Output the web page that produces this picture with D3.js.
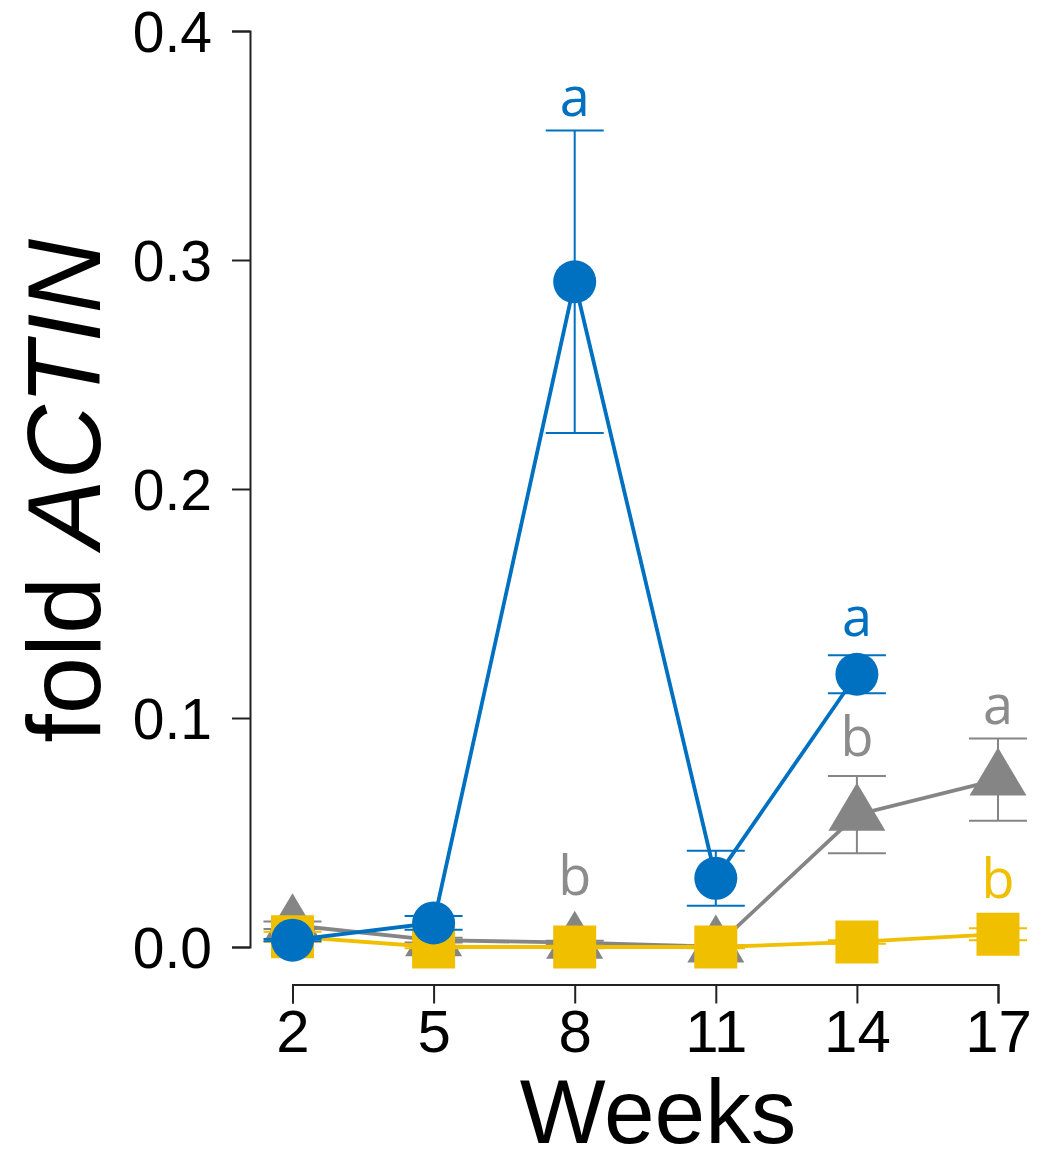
<!DOCTYPE html>
<html>
<head>
<meta charset="utf-8">
<script src="https://cdn.jsdelivr.net/npm/d3@7/dist/d3.min.js"></script>
<style>
  html, body { margin: 0; padding: 0; background: #fff; }
  svg { display: block; }
</style>
</head>
<body>
<svg id="chart" width="1037" height="1163"></svg>
<script>
// Sampling weeks
const weeks = [2, 5, 8, 11, 14, 17];
const yTicks = [0, 0.1, 0.2, 0.3, 0.4];

// Mean expression (fold ACTIN) and standard error per week; null = not sampled
const blueMean   = [0.003, 0.0105, 0.2905, 0.030, 0.1191, null];
const blueErr    = [0.0005, 0.003, 0.066, 0.012, 0.0083, null];
const greyMean   = [0.0095, 0.003, 0.0019, 0.0002, 0.0578, 0.0731];
const greyErr    = [0.0016, 0.001, 0.0008, 0.0005, 0.0169, 0.018];
const yellowMean = [0.0045, 0.0, 0.0, 0.0, 0.0022, 0.0056];
const yellowErr  = [0.0022, 0.0005, 0.0005, 0.0005, 0.0008, 0.0026];

// Significance letters: week, series, letter, vertical position (data units)
const letterWeek   = [8, 14, 8, 14, 17, 17];
const letterSeries = ["blue", "blue", "grey", "grey", "grey", "yellow"];
const letterText   = ["a", "a", "b", "b", "a", "b"];
const letterY      = [0.363, 0.136, 0.0227, 0.0833, 0.0973, 0.0214];

const colors = { blue: "#0070C0", grey: "#858585", yellow: "#EFBF00" };

const svg = d3.select("#chart");
const x = d3.scaleLinear().domain([2, 17]).range([292.5, 998]);
const y = d3.scaleLinear().domain([0, 0.4]).range([947, 31]);

// Axes in base-graphics style: detached, spanning only the tick range
const yAxis = svg.append("g").attr("transform", "translate(250,0)")
  .call(d3.axisLeft(y).tickValues(yTicks).tickFormat(d3.format(".1f")).tickSize(18).tickPadding(20));
const xAxis = svg.append("g").attr("transform", "translate(0,984.5)")
  .call(d3.axisBottom(x).tickValues(weeks).tickFormat(d3.format("d")).tickSize(19).tickPadding(8));
[yAxis, xAxis].forEach(g => {
  g.select(".domain").attr("stroke", "#222").attr("stroke-width", 2);
  g.selectAll(".tick line").attr("stroke", "#222").attr("stroke-width", 2);
  g.selectAll(".tick text").attr("fill", "#000").attr("font-family", "'Liberation Sans', Arial, sans-serif");
});
yAxis.selectAll(".tick text").attr("font-size", 57).attr("dy", "0.36em");
xAxis.selectAll(".tick text").attr("font-size", 60).attr("dy", "0.68em");

// Axis titles
const yLab = svg.append("text")
  .attr("transform", "translate(100,491) rotate(-90)")
  .attr("text-anchor", "middle")
  .attr("font-family", "'Liberation Sans', Arial, sans-serif")
  .attr("font-size", 103)
  .attr("fill", "#000");
yLab.append("tspan").text("fold ");
yLab.append("tspan").attr("font-style", "italic").text("ACTIN");

svg.append("text")
  .attr("x", 658).attr("y", 1143)
  .attr("text-anchor", "middle")
  .attr("font-family", "'Liberation Sans', Arial, sans-serif")
  .attr("font-size", 91)
  .attr("fill", "#000")
  .text("Weeks");

// Series, drawn back to front
const series = [
  { key: "grey",   mean: greyMean,   err: greyErr,   shape: "triangle" },
  { key: "yellow", mean: yellowMean, err: yellowErr, shape: "square" },
  { key: "blue",   mean: blueMean,   err: blueErr,   shape: "circle" }
];

const capHalf = 29;
const symbolPath = {
  circle: d3.symbol().type(d3.symbolCircle).size(Math.PI * 21.5 * 21.5)(),
  square: d3.symbol().type(d3.symbolSquare).size(43 * 43)()
};
// Triangle with its centroid on the data point
const triPath = (w, h) => `M0,${-2 * h / 3}L${w / 2},${h / 3}L${-w / 2},${h / 3}Z`;

series.forEach(s => {
  const pts = weeks.map((w, i) => ({ w, m: s.mean[i], e: s.err[i] })).filter(d => d.m != null);
  const col = colors[s.key];
  const g = svg.append("g");

  // error bars
  const eb = g.append("g").attr("stroke", col).attr("stroke-width", 2).attr("fill", "none");
  pts.forEach(d => {
    const x0 = x(d.w), yt = y(d.m + d.e), yb = y(d.m - d.e);
    eb.append("line").attr("x1", x0).attr("x2", x0).attr("y1", yt).attr("y2", yb);
    eb.append("line").attr("x1", x0 - capHalf).attr("x2", x0 + capHalf).attr("y1", yt).attr("y2", yt);
    eb.append("line").attr("x1", x0 - capHalf).attr("x2", x0 + capHalf).attr("y1", yb).attr("y2", yb);
  });

  // connecting line
  g.append("path")
    .datum(pts)
    .attr("fill", "none")
    .attr("stroke", col)
    .attr("stroke-width", 3.8)
    .attr("d", d3.line().x(d => x(d.w)).y(d => y(d.m)));

  // markers
  g.selectAll("path.pt").data(pts).join("path")
    .attr("class", "pt")
    .attr("transform", d => `translate(${x(d.w)},${y(d.m)})`)
    .attr("d", s.shape === "triangle" ? triPath(57, 48) : symbolPath[s.shape])
    .attr("fill", col);
});

// Significance letters
svg.append("g").selectAll("text")
  .data(letterText.map((t, i) => ({ t, w: letterWeek[i], s: letterSeries[i], v: letterY[i] })))
  .join("text")
  .attr("x", d => x(d.w))
  .attr("y", d => y(d.v))
  .attr("text-anchor", "middle")
  .attr("font-family", "'Open Sans', 'Noto Sans', sans-serif")
  .attr("font-size", 54)
  .attr("fill", d => d.s === "grey" ? "#8c8c8c" : colors[d.s])
  .text(d => d.t);
</script>
</body>
</html>
